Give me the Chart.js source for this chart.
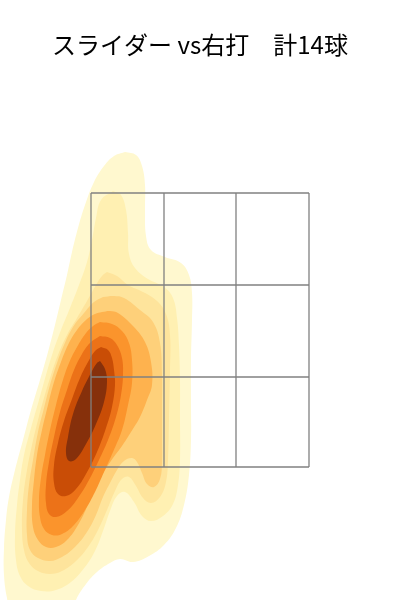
<!DOCTYPE html>
<html>
<head>
<meta charset="utf-8">
<script src="https://cdn.jsdelivr.net/npm/chart.js@4"></script>
<style>
html,body{margin:0;padding:0;background:#fff;}
#wrap{width:400px;height:600px;position:relative;}
</style>
</head>
<body>
<div id="wrap"><canvas id="c"></canvas></div>
<script>
// Title
const titleText = 'スライダー vs右打　計14球';

// Strike zone grid (cm from plate centre / above ground, approx.)
const zoneX = [-21.8, -7.2, 7.2, 21.8];
const zoneY = [26.6, 44.6, 63, 81.4];

// Density contour levels (outermost = level1 ... innermost = level9), [x, y] pairs
const level1 = [[-15,89.6],[-12.8,89],[-11.6,86.8],[-11,83],[-11,78],[-10.8,72.8],[-9.8,70],[-7,68.6],[-3.8,67.4],[-2.2,65],[-1.6,61.4],[-1.6,56],[-1.8,48],[-1.8,40],[-1.8,32],[-2.2,25],[-3.2,19],[-4.8,14.4],[-7.2,11],[-10.2,8.8],[-13.4,7.6],[-16,8.2],[-18,7.4],[-20.6,5.6],[-22.8,3.2],[-24.8,0],[-25.6,-3],[-37.6,-3],[-38.6,0.4],[-39.2,5],[-39.2,10.4],[-38.8,16],[-38.2,20.6],[-37,26],[-35.4,32],[-33.8,38],[-32,44],[-30.4,49.6],[-29,55],[-27.8,60],[-26.6,65],[-25.6,69.6],[-24.4,74.4],[-23,79],[-21.2,83.6],[-19.2,86.8],[-17.2,88.8]];
const level2 = [[-17.4,81.8],[-15.8,81],[-14.8,78],[-14.4,73.4],[-14.2,69.2],[-13,66.4],[-10.4,64.2],[-7.2,62.6],[-5.4,60.4],[-4.6,56.4],[-4.2,51],[-4,44],[-4,36],[-4,28],[-4.4,23],[-5.4,19.2],[-7.4,16.8],[-9.8,15.8],[-11.6,16.8],[-13.2,19.6],[-15,21.6],[-16.6,20.8],[-18,17.8],[-19.4,13.8],[-21,9.8],[-23,6.6],[-25.8,3.6],[-28.8,2],[-31.8,1.8],[-34.4,2.8],[-36,4.8],[-36.8,8],[-37,13],[-36.6,19],[-36,24],[-35.2,29],[-33.8,34.4],[-32.2,40],[-30.8,45],[-29.4,49.6],[-27.8,54],[-26,58.4],[-24.2,63],[-22.6,67.6],[-21.6,72],[-20.8,76.4],[-19.8,80]];
const level3 = [[-18.6,65.6],[-16.6,64.8],[-14.4,63],[-11.4,61.6],[-8.6,59.8],[-6.8,57.2],[-6,53],[-6,46],[-6.2,36],[-6.4,28],[-6.8,23.6],[-8,20.6],[-9.8,19.4],[-11.4,20.4],[-12.8,22.8],[-14.2,24.6],[-15.6,24.2],[-17,21.8],[-18.6,18],[-20.4,14],[-22.4,10.6],[-24.8,7.8],[-27.6,5.8],[-30,5.2],[-32.4,5.8],[-34.2,7.4],[-35.2,10],[-35.6,14],[-35.4,20],[-34.6,26],[-33.6,31],[-32.4,36],[-31.2,40.4],[-29.8,45],[-28.4,49],[-26.6,53],[-24.6,56.4],[-22.6,59.8],[-20.8,63],[-19.6,64.8]];
const level4 = [[-19.4,60.6],[-17.2,60.8],[-15.2,60.4],[-12,58],[-9.4,55.6],[-8,51.4],[-7.6,45],[-7.6,38],[-7.6,32],[-7.6,27.4],[-8,24.2],[-9.2,22.6],[-10.6,23.2],[-11.6,25.4],[-12.6,27.6],[-13.6,28.4],[-15.2,27.8],[-16.6,26],[-18,23.4],[-19.4,20.6],[-20.8,17],[-22.6,13.6],[-25,10.6],[-27.6,8.6],[-30,7.8],[-32.4,8.4],[-34,10],[-34.6,13],[-34.6,18],[-34.2,23],[-33.4,28],[-32.4,33.6],[-31.2,38.4],[-30,43],[-28.6,47.4],[-27.2,51],[-25.4,54.6],[-23.2,57.4],[-21.2,59.6]];
const level5 = [[-19.6,57.6],[-18,57.8],[-16.4,57.4],[-13.4,54.8],[-11,51.6],[-9.8,47.6],[-9.6,43],[-10.6,40],[-12,36.6],[-13.8,33.6],[-15.6,30.8],[-17.4,28.4],[-19,26],[-20.6,23],[-22.4,19],[-24.4,15],[-26.6,12],[-28.8,10.6],[-30.8,10.6],[-32.4,12],[-33.4,14.6],[-33.6,19],[-33.2,24],[-32.6,29],[-31.6,34],[-30.4,39],[-29.2,43.6],[-27.8,47.6],[-26.4,51],[-24.6,54],[-22.6,56.2],[-21,57.2]];
const level6 = [[-20,55.6],[-17.6,55.2],[-15.6,53.8],[-14.2,51.4],[-13.6,48],[-13.6,43.4],[-14.4,39],[-15.6,34],[-17.4,29.6],[-19.2,25.6],[-21,21.6],[-23,18],[-25.2,15],[-27.6,13.2],[-29.6,13],[-31.2,14.2],[-32,16.6],[-32.2,20],[-31.8,24.4],[-31,29],[-30,34],[-28.8,39],[-27.6,43.4],[-26.2,47.4],[-24.6,50.6],[-22.8,53.4],[-21.4,54.8]];
const level7 = [[-20,52.8],[-18,52.4],[-16.6,51],[-15.6,48.4],[-15.4,45],[-15.8,41],[-16.8,36.6],[-18.4,32],[-20.2,28],[-22.2,24],[-24.4,20.4],[-26.6,17.8],[-28.8,16.6],[-30.2,17.2],[-30.8,19.4],[-30.8,23],[-30.2,27.6],[-29.2,32.6],[-28,37.6],[-26.6,42],[-25.2,46],[-23.6,49.2],[-22,51.4]];
const level8 = [[-19.8,50.6],[-18.4,50],[-17.6,48.4],[-17.2,46],[-17,43],[-17.6,38.6],[-18.8,34.4],[-20.6,29.6],[-22.8,25.2],[-24.8,22.2],[-26.8,20.8],[-28.4,21.2],[-29.2,23.4],[-29.2,27],[-28.4,31.4],[-27.2,35.8],[-25.6,40.2],[-24,44.4],[-22.4,47.6],[-21,49.8]];
const level9 = [[-20,47.8],[-19,46.2],[-18.6,43.6],[-19.2,39.6],[-20.8,35.2],[-22.8,31.2],[-24.8,28.2],[-26.2,27.8],[-26.8,29.4],[-26.4,32.6],[-25.4,37.2],[-23.6,41.8],[-21.6,45.8],[-20.6,47.4]];

const levels = [level1, level2, level3, level4, level5, level6, level7, level8, level9];
const levelColors = ['#fff8cf', '#fff0b2', '#fee49c', '#fed07a', '#feb24e', '#fb942c', '#ec7218', '#c94d06', '#86300b'];

const datasets = [];
// contour bands, outermost drawn first (highest order)
levels.forEach((lv, i) => {
  const pts = lv.map(p => ({x: p[0], y: p[1]}));
  pts.push({x: lv[0][0], y: lv[0][1]});
  datasets.push({
    data: pts,
    showLine: true,
    fill: 'shape',
    backgroundColor: levelColors[i],
    borderColor: levelColors[i],
    borderWidth: 0,
    pointRadius: 0,
    tension: 0.4,
    order: 20 - i
  });
});
// strike zone grid on top
zoneX.forEach(x => {
  datasets.push({
    data: [{x: x, y: zoneY[0]}, {x: x, y: zoneY[zoneY.length - 1]}],
    showLine: true, fill: false, borderColor: '#808080', borderWidth: 1.3,
    pointRadius: 0, order: 0
  });
});
zoneY.forEach(y => {
  datasets.push({
    data: [{x: zoneX[0], y: y}, {x: zoneX[zoneX.length - 1], y: y}],
    showLine: true, fill: false, borderColor: '#808080', borderWidth: 1.3,
    pointRadius: 0, order: 0
  });
});

new Chart(document.getElementById('c'), {
  type: 'scatter',
  data: {datasets: datasets},
  options: {
    responsive: true,
    maintainAspectRatio: false,
    animation: false,
    layout: {padding: 0},
    plugins: {
      legend: {display: false},
      tooltip: {enabled: false},
      title: {
        display: true,
        text: titleText,
        color: '#000',
        font: {family: "'Noto Sans CJK JP', 'Noto Sans', sans-serif", size: 24, weight: 'normal', lineHeight: 1.2},
        padding: {top: 30.6, bottom: 40.6}
      }
    },
    scales: {
      x: {type: 'linear', min: -40, max: 40, display: false},
      y: {type: 'linear', min: 0, max: 100, display: false}
    }
  }
});
</script>
</body>
</html>
